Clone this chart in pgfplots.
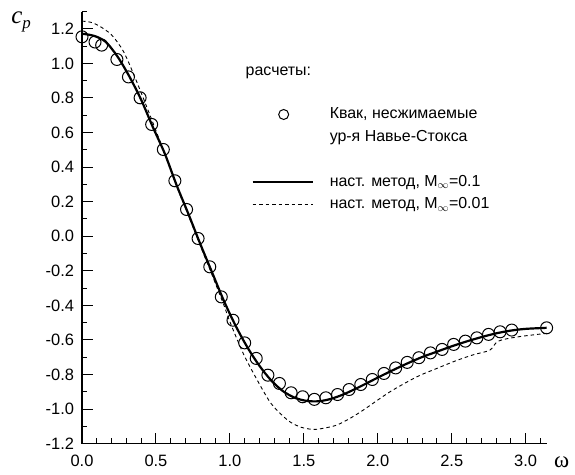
\documentclass[border=0pt]{standalone}
\usepackage{pgfplots}
\pgfplotsset{compat=1.18}
\usepackage{fontspec}
\setmainfont{Liberation Sans}
\newfontfamily\serifLS{Liberation Serif}
\pgfplotsset{
  lineleg/.style={legend image code/.code={\draw[##1] (0bp,0bp) -- (60bp,0bp);}},
  markleg/.style={legend image code/.code={\draw[##1] plot coordinates {(31bp,0bp)};}},
}
\begin{document}
\begin{tikzpicture}
\begin{axis}[
  scale only axis, width=464.6bp, height=432bp,
  xmin=0, xmax=3.14159, ymin=-1.2, ymax=1.3,
  axis lines=left,
  axis line style={-, line width=1.5bp},
  tick align=inside,
  xtick={0,0.5,1,1.5,2,2.5,3},
  ytick={-1.2,-1,-0.8,-0.6,-0.4,-0.2,0,0.2,0.4,0.6,0.8,1,1.2},
  minor xtick={0.1,0.2,0.3,0.4,0.6,0.7,0.8,0.9,1.1,1.2,1.3,1.4,1.6,1.7,1.8,1.9,2.1,2.2,2.3,2.4,2.6,2.7,2.8,2.9,3.1},
  minor ytick={-1.1,-0.9,-0.7,-0.5,-0.3,-0.1,0.1,0.3,0.5,0.7,0.9,1.1,1.3},
  major tick length=11bp, minor tick length=5.5bp,
  every tick/.style={line width=1bp, black},
  /pgf/number format/assume math mode=true,
  xticklabel style={font=\fontsize{16.5}{19}\selectfont, yshift=-8bp,
    /pgf/number format/fixed, /pgf/number format/fixed zerofill, /pgf/number format/precision=1},
  yticklabel style={font=\fontsize{16.5}{19}\selectfont, xshift=-4.5bp,
    /pgf/number format/fixed, /pgf/number format/fixed zerofill, /pgf/number format/precision=1},
  xlabel={ω}, ylabel={{\itshape c}\raisebox{-5bp}{\fontsize{17}{20}\selectfont\itshape p}},
  every axis x label/.style={at={(axis description cs:1.0325,-0.043)}, anchor=center, font=\serifLS\fontsize{23}{28}\selectfont},
  every axis y label/.style={at={(axis description cs:-0.131,0.976)}, anchor=center, font=\serifLS\fontsize{25}{28}\selectfont},
  clip=false,
  legend cell align=left,
  legend style={draw=none, fill=none, at={(axis description cs:0.365,0.788)}, anchor=north west,
    inner sep=0pt, outer sep=0pt, row sep=0pt, column sep=16bp,
    font=\fontsize{16}{19}\selectfont,
    nodes={inner xsep=0pt, inner ysep=3.3bp, text height=12bp, text depth=4bp}},
]
% present method, M=0.1 (solid)
\addplot[black, line width=2.2bp, smooth, forget plot] coordinates {
(0,1.172) (0.08,1.16) (0.16,1.125) (0.24,1.04) (0.32,0.925) (0.40,0.79) (0.48,0.63)
(0.56,0.478) (0.64,0.295) (0.72,0.128) (0.80,-0.045) (0.88,-0.21) (0.96,-0.375)
(1.04,-0.52) (1.12,-0.645) (1.20,-0.75) (1.28,-0.835) (1.36,-0.897) (1.44,-0.935)
(1.52,-0.953) (1.60,-0.955) (1.68,-0.942) (1.76,-0.918) (1.84,-0.887) (1.92,-0.853)
(2.00,-0.818) (2.10,-0.776) (2.20,-0.736) (2.30,-0.699) (2.40,-0.668) (2.50,-0.637)
(2.60,-0.609) (2.70,-0.584) (2.80,-0.562) (2.90,-0.546) (3.00,-0.536) (3.14159,-0.530)
};
% present method, M=0.01 (dashed)
\addplot[black, line width=0.9bp, dash pattern=on 3.5bp off 3bp, smooth, forget plot] coordinates {
(0,1.245) (0.06,1.238) (0.12,1.215) (0.20,1.165) (0.28,1.07) (0.36,0.915) (0.46,0.70)
(0.56,0.475) (0.64,0.29) (0.72,0.12) (0.80,-0.055) (0.88,-0.225) (0.96,-0.40)
(1.00,-0.495) (1.09,-0.678) (1.18,-0.825) (1.27,-0.958) (1.34,-1.025) (1.406,-1.074)
(1.48,-1.105) (1.564,-1.118) (1.64,-1.11) (1.722,-1.093) (1.81,-1.055) (1.902,-1.006)
(2.083,-0.900) (2.263,-0.814) (2.385,-0.77) (2.53,-0.72) (2.65,-0.685) (2.758,-0.659)
(2.815,-0.607) (2.95,-0.582) (3.14159,-0.562)
};
% Kwak, incompressible NS (circles)
\addplot[black, only marks, mark=o, mark size=6bp, mark options={line width=1bp}, forget plot] coordinates {
(0.000,1.154) (0.088,1.124) (0.133,1.106) (0.236,1.023) (0.314,0.922) (0.393,0.801)
(0.471,0.647) (0.550,0.502) (0.628,0.321) (0.707,0.155) (0.785,-0.013) (0.864,-0.177)
(0.942,-0.351) (1.021,-0.486) (1.100,-0.617) (1.178,-0.707) (1.257,-0.804) (1.335,-0.852)
(1.414,-0.906) (1.492,-0.929) (1.571,-0.944) (1.649,-0.935) (1.728,-0.916) (1.806,-0.887)
(1.885,-0.858) (1.963,-0.829) (2.042,-0.794) (2.121,-0.762) (2.199,-0.730) (2.278,-0.703)
(2.356,-0.675) (2.435,-0.655) (2.513,-0.626) (2.592,-0.607) (2.670,-0.588) (2.749,-0.568)
(2.827,-0.553) (2.906,-0.543) (3.14159,-0.530)
};
\addlegendimage{markleg, black, only marks, mark=o, mark size=5bp, mark options={line width=1bp}}
\addlegendentry{Квак, несжимаемые}
\addlegendimage{empty legend}
\addlegendentry{ур-я Навье-Стокса}
\addlegendimage{empty legend}
\addlegendentry{}
\addlegendimage{lineleg, black, line width=2.2bp}
\addlegendentry{наст. метод, M$_\infty$=0.1}
\addlegendimage{lineleg, black, line width=0.9bp, dash pattern=on 3.5bp off 3bp}
\addlegendentry{наст. метод, M$_\infty$=0.01}
\node[anchor=base west, inner sep=0pt, font=\fontsize{16}{19}\selectfont] at (axis description cs:0.352,0.851) {расчеты:};
\end{axis}
\pgfresetboundingbox
\path[use as bounding box] (-82bp,-31.4bp) rectangle (493bp,443.6bp);
\end{tikzpicture}
\end{document}
